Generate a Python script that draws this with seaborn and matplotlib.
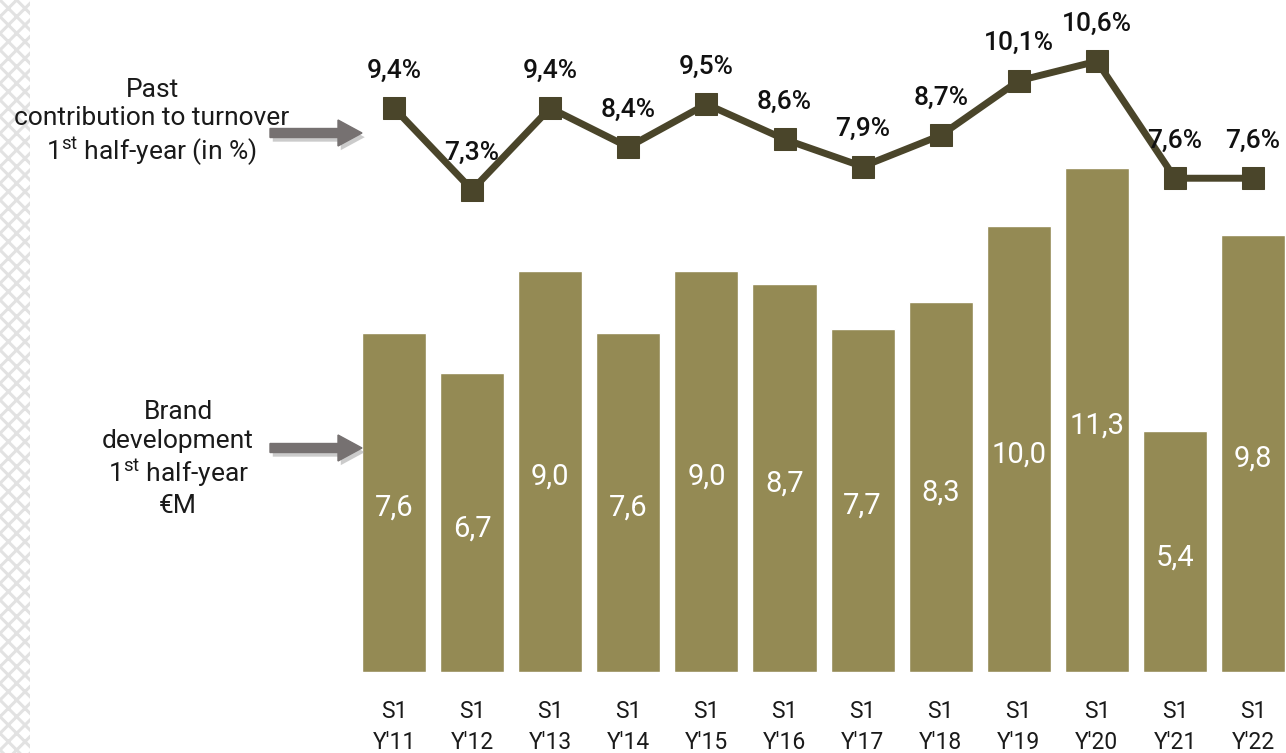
import numpy as np
import pandas as pd
import matplotlib
matplotlib.use("Agg")
import matplotlib.pyplot as plt
import matplotlib.patheffects as pe
from matplotlib.patches import FancyArrow, Rectangle
import seaborn as sns

# --- data -------------------------------------------------------------
periods = ["S1\nY'11", "S1\nY'12", "S1\nY'13", "S1\nY'14", "S1\nY'15", "S1\nY'16",
           "S1\nY'17", "S1\nY'18", "S1\nY'19", "S1\nY'20", "S1\nY'21", "S1\nY'22"]
brand_dev = [7.6, 6.7, 9.0, 7.6, 9.0, 8.7, 7.7, 8.3, 10.0, 11.3, 5.4, 9.8]
contribution_pct = [9.4, 7.3, 9.4, 8.4, 9.5, 8.6, 7.9, 8.7, 10.1, 10.6, 7.6, 7.6]

bar_label = "Brand\ndevelopment\n1$^{\\rm st}$ half-year\n€M"
line_label = "Past\ncontribution to turnover\n1$^{\\rm st}$ half-year (in %)"

def fr(v):
    return f"{v:.1f}".replace(".", ",")

# --- style ------------------------------------------------------------
sns.set_theme(style="white")
plt.rcParams["font.family"] = ["Roboto", "DejaVu Sans"]
plt.rcParams["mathtext.fontset"] = "custom"
plt.rcParams["mathtext.rm"] = "Roboto"
plt.rcParams["mathtext.it"] = "Roboto"
plt.rcParams["hatch.linewidth"] = 2.2

BAR = "#948A54"
LINE = "#4A452A"
ARROW = "#767171"

W, H = 1286, 753
fig = plt.figure(figsize=(W / 100, H / 100), dpi=100)

def px_rect(x0, y0_top, x1, y1_top):
    return [x0 / W, 1 - y1_top / H, (x1 - x0) / W, (y1_top - y0_top) / H]

# decorative crosshatch strip on the left edge
strip = Rectangle((0, 0), 30 / W, 1, transform=fig.transFigure,
                  facecolor="none", edgecolor="#e2e2e2", hatch="xx",
                  linewidth=0)
fig.patches.append(strip)

# main axes: category slots 78.1 px apart, first centre at x=394
slot = 78.1
left = 394 - slot / 2
ax = fig.add_axes(px_rect(left, 0, W, 672))
ax.patch.set_alpha(0)

df = pd.DataFrame({"period": periods, "value": brand_dev})
sns.barplot(data=df, x="period", y="value", ax=ax, color=BAR,
            saturation=1, width=0.82)
ax.set_xlim(-0.5, -0.5 + (W - left) / slot)
ax.set_ylim(0, 672 / 44.6)

for i, v in enumerate(brand_dev):
    ax.annotate(fr(v), (i, v / 2), xytext=(0, -4), textcoords="offset points",
                ha="center", va="center", color="white", fontsize=21)

ax.set_xlabel("")
ax.set_ylabel("")
ax.set_yticks([])
ax.tick_params(axis="x", length=0, pad=20, labelsize=16.5)
for t in ax.get_xticklabels():
    t.set_linespacing(1.45)
    t.set_color("#1a1a1a")
for s in ax.spines.values():
    s.set_visible(False)

# line on its own scale
ax2 = ax.twinx()
ax2.set_ylim(-5.06, 12.17)
xs = np.arange(len(contribution_pct))
sns.lineplot(x=xs, y=contribution_pct, ax=ax2, color=LINE, linewidth=5,
             marker="s", markersize=16, markeredgecolor=LINE,
             markerfacecolor=LINE)
for i, v in enumerate(contribution_pct):
    ax2.annotate(fr(v) + "%", (i, v), xytext=(0, 27), textcoords="offset points",
                 ha="center", va="center", fontsize=19, fontweight="medium",
                 color="#111111")
ax2.set_yticks([])
ax2.set_ylabel("")
for s in ax2.spines.values():
    s.set_visible(False)

# side captions
fig.text(152 / W, 1 - 123 / H, line_label, ha="center", va="center",
         fontsize=19, linespacing=1.22, color="#1a1a1a")
fig.text(178 / W, 1 - 459 / H, bar_label, ha="center", va="center",
         fontsize=19, linespacing=1.22, color="#1a1a1a")

# pointer arrows
shadow = [pe.SimplePatchShadow(offset=(2, -3), shadow_rgbFace="#999999", alpha=0.5),
          pe.Normal()]
for y in (133, 448):
    arr = FancyArrow(270, H - y, 92, 0, width=9, head_width=26,
                     head_length=24, length_includes_head=True,
                     color=ARROW, transform=None)
    arr.set_path_effects(shadow)
    fig.patches.append(arr)

fig.savefig("out.png", dpi=100, facecolor="white")
